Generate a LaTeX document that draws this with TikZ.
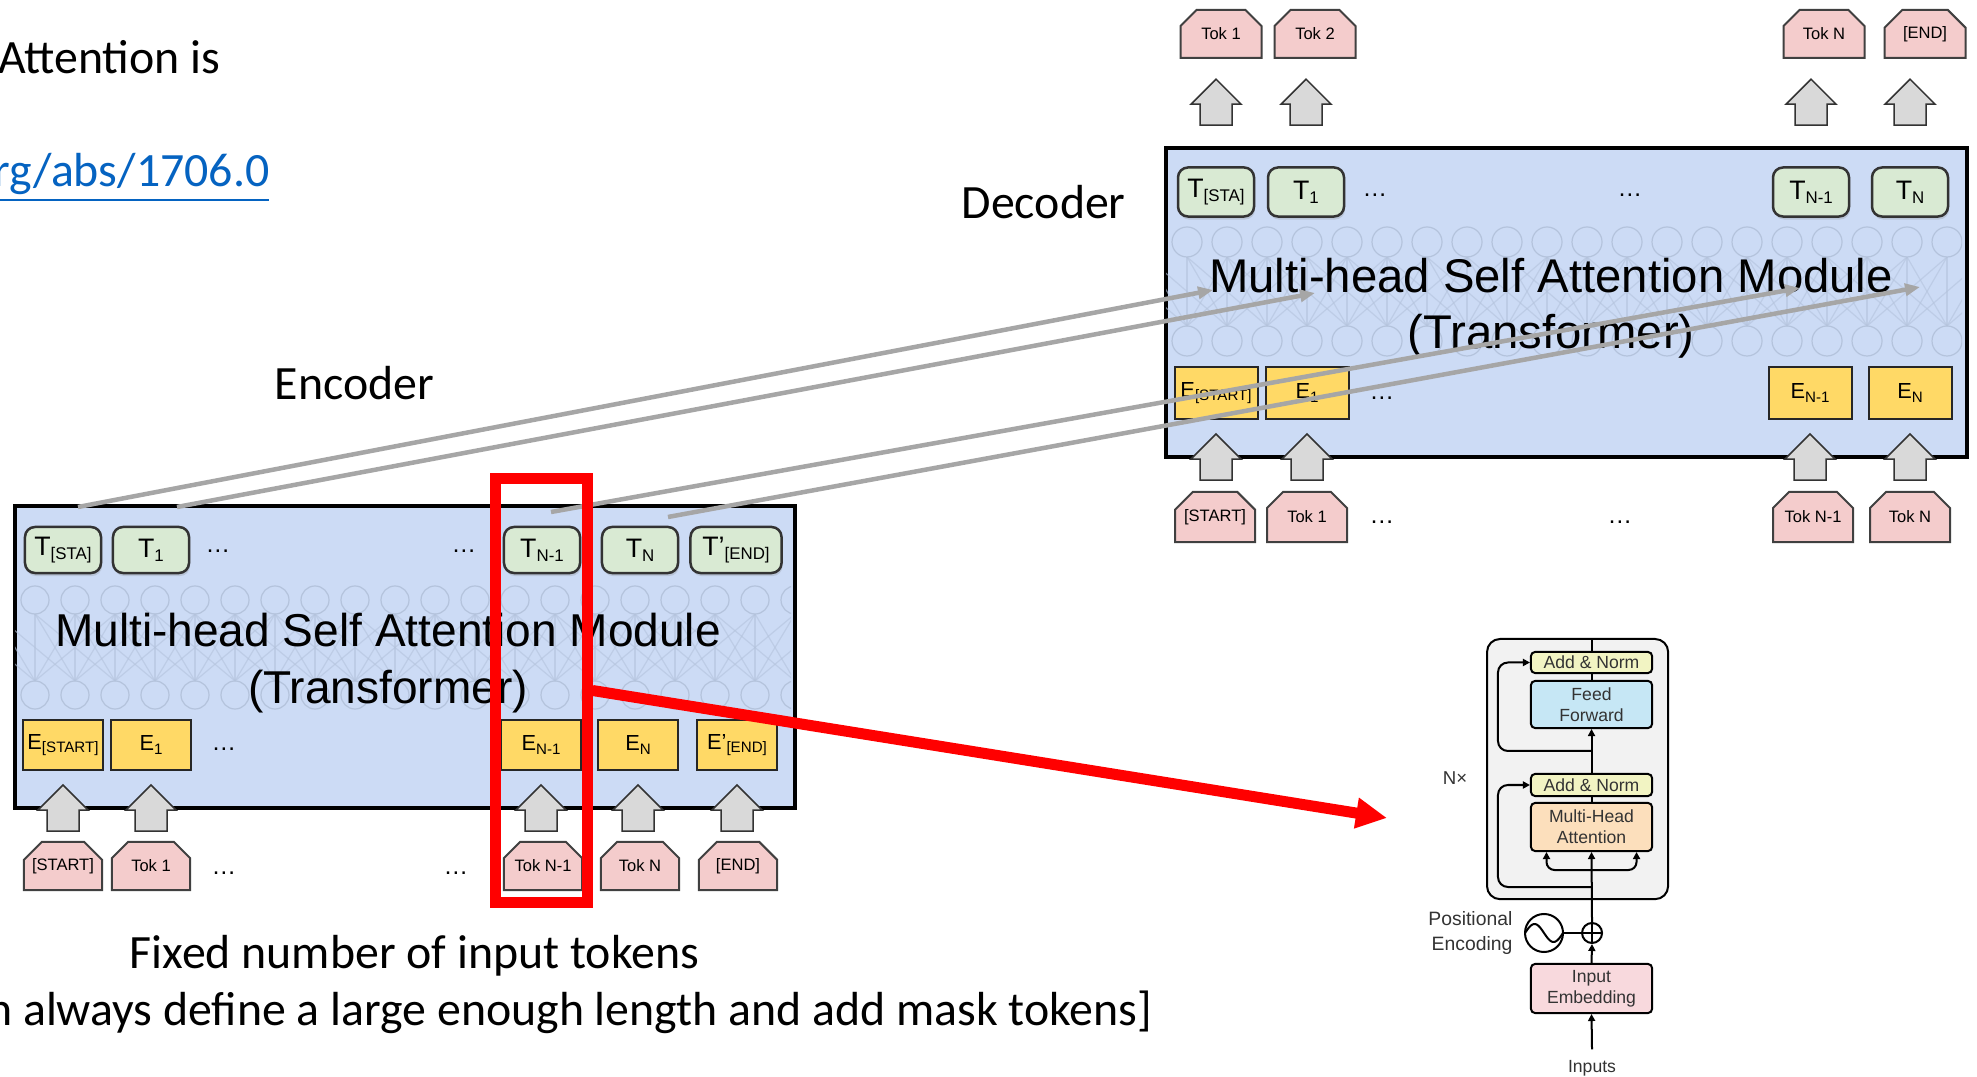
\documentclass[tikz,border=0pt]{standalone}
\usepackage{fontspec}
\setmainfont{Carlito}
\newfontfamily\arialfont{Liberation Sans}
\usetikzlibrary{positioning,arrows.meta,shapes.misc,shadows}

\definecolor{modblue}{HTML}{CCDBF5}
\definecolor{netgray}{HTML}{B4C3DC}
\definecolor{tgreen}{HTML}{D9EAD3}
\definecolor{eyellow}{HTML}{FFD966}
\definecolor{tokpink}{HTML}{F4CCCC}
\definecolor{blockgray}{HTML}{D9D9D9}
\definecolor{feedgray}{HTML}{A6A6A6}
\definecolor{linkblue}{HTML}{0563C1}
\definecolor{nxgray}{HTML}{F2F2F2}
\definecolor{normyellow}{HTML}{F2F4C3}
\definecolor{ffblue}{HTML}{C6E7F5}
\definecolor{mhaorange}{HTML}{FCDFBC}
\definecolor{embpink}{HTML}{F8D9DD}

% label with a small lowered index
\newcommand{\sublbl}[2]{#1\raisebox{-0.3ex}{\fontsize{4.8}{5}\selectfont #2}}
\newcommand{\esub}[2]{#1\raisebox{-0.3ex}{\fontsize{4.3}{5}\selectfont #2}}

\tikzset{
  modbox/.style={draw=black, line width=0.04cm, fill=modblue, inner sep=0pt},
  netline/.style={draw=netgray, line width=0.012cm},
  tbox/.style={draw=black!80, line width=0.025cm, rounded corners=0.1cm, fill=tgreen,
    minimum width=0.76cm, minimum height=0.46cm, inner sep=0pt,
    font=\arialfont\fontsize{7.6}{8}\selectfont,
    drop shadow={shadow xshift=0.01cm, shadow yshift=-0.03cm, opacity=0.25}},
  ebox/.style={draw=black!85, line width=0.02cm, fill=eyellow, minimum width=0.8cm,
    minimum height=0.5cm, inner sep=0pt, font=\arialfont\fontsize{6.2}{7}\selectfont},
  tokbox/.style={chamfered rectangle, chamfered rectangle corners={north west,north east},
    chamfered rectangle sep=0.1cm, draw=black!75, line width=0.02cm, fill=tokpink,
    minimum width=0.78cm, minimum height=0.48cm, inner sep=0pt,
    font=\arialfont\fontsize{4.7}{5}\selectfont},
  dots/.style={font=\arialfont\fontsize{7}{8}\selectfont, inner sep=0pt},
  title/.style={align=center, font=\arialfont\fontsize{13.1}{16}\selectfont},
  note/.style={font=\fontsize{13.6}{16}\selectfont, inner sep=0pt},
  feed/.style={draw=feedgray, line width=0.045cm, -{Triangle[length=0.15cm,width=0.12cm]}},
  blk/.style={draw=black, line width=0.02cm, rounded corners=0.04cm, minimum width=1.21cm,
    inner sep=0pt, align=center, text=black!80, font=\arialfont\fontsize{5}{6}\selectfont},
  flow/.style={line width=0.02cm, -{Triangle[length=0.07cm,width=0.07cm]}},
  uparr/.pic={\filldraw[fill=blockgray, draw=black!80, line width=0.015cm]
    (0,0) -- (25,25) -- (16,25) -- (16,46) -- (-16,46) -- (-16,25) -- (-25,25) -- cycle;},
}

\begin{document}
\begin{tikzpicture}[x=0.01cm, y=-0.01cm]
\useasboundingbox (0,0) rectangle (1977,1077);
\fill[white] (0,0) rectangle (1977,1077);

% texts
\node[note, anchor=base east] (paper) at (221,74) {Attention is};
\node[note, anchor=base east, text=linkblue] (url) at (270,187) {\underline{rg/abs/1706.0}};
\node[note, anchor=base west] (declbl) at (961,219) {Decoder};
\node[note, anchor=base west] (enclbl) at (274,400) {Encoder};
\node[note, anchor=base west] (fixlbl) at (129,968) {Fixed number of input tokens};
\node[note, anchor=base east] (masklbl) at (1153,1025) {n always define a large enough length and add mask tokens]};

% Encoder
\node[modbox, minimum width=7.8cm, minimum height=3.02cm, anchor=north west] (enc) at (13,504) {};
\begin{scope}
\clip (15,506) rectangle (791,804);
\foreach \i in {0,...,19} {
  \draw[netline] ({35+40*\i},600) circle (0.14cm) ({35+40*\i},695) circle (0.14cm);
  \foreach \d in {-2,...,2}
    \draw[netline, opacity=.6] ({35+40*\i},681) -- ({35+40*(\i+\d)},614);
}
\end{scope}
\node[title] (etitle) at (388,663) {Multi-head Self Attention Module\\(Transformer)};

\foreach \n/\x/\lab in {0/63/{\sublbl{T}{[STA]}}, 1/151/{\sublbl{T}{1}}, 2/542/{\sublbl{T}{N-1}}, 3/640/{\sublbl{T}{N}}}
  \node[tbox] (eT\n) at (\x,550) {\lab};
\node[tbox, minimum width=0.91cm] (eT4) at (736,550) {\sublbl{T’}{[END]}};
\foreach \n/\x/\lab in {0/63/{\esub{E}{[START]}}, 1/151/{\esub{E}{1}}, 2/541/{\esub{E}{N-1}}, 3/638/{\esub{E}{N}}, 4/737/{\esub{E’}{[END]}}}
  \node[ebox] (eE\n) at (\x,745) {\lab};
\foreach \n/\x/\lab in {0/63/{[START]}, 1/151/{Tok 1}, 2/543/{Tok N-1}, 3/640/{Tok N}, 4/738/{[END]}}
  \node[tokbox] (eK\n) at (\x,866) {\lab};
\foreach \n in {0,...,4}
  \pic at ([yshift=-0.14cm]eE\n.south) {uparr};
\node[dots] (edT1) at (218,551) {\dots};
\node[dots] (edT2) at (464,551) {\dots};
\node[dots] (edE) at (224,749) {\dots};
\node[dots] (edK1) at (224,873) {\dots};
\node[dots] (edK2) at (456,873) {\dots};

% Decoder
\node[modbox, minimum width=8cm, minimum height=3.09cm, anchor=north west] (dec) at (1164,146) {};
\begin{scope}
\clip (1166,148) rectangle (1962,453);
\foreach \i in {0,...,19} {
  \draw[netline] ({1187+40*\i},242) circle (0.15cm) ({1187+40*\i},341) circle (0.15cm);
  \foreach \d in {-2,...,2}
    \draw[netline, opacity=.6] ({1187+40*\i},326) -- ({1187+40*(\i+\d)},257);
}
\end{scope}
\node[title, font=\arialfont\fontsize{13.45}{16}\selectfont] (dtitle) at (1551,308) {Multi-head Self Attention Module\\(Transformer)};

\foreach \n/\x/\lab in {0/1216/{\sublbl{T}{[STA]}}, 1/1306/{\sublbl{T}{1}}, 2/1811/{\sublbl{T}{N-1}}, 3/1910/{\sublbl{T}{N}}}
  \node[tbox, minimum height=0.49cm] (dT\n) at (\x,192) {\lab};
\foreach \n/\x/\lab in {0/1216/{\esub{E}{[START]}}, 1/1307/{\esub{E}{1}}, 2/1810/{\esub{E}{N-1}}, 3/1910/{\esub{E}{N}}}
  \node[ebox, minimum width=0.83cm, minimum height=0.52cm] (dE\n) at (\x,393) {\lab};
\foreach \n/\x/\lab in {0/1215/{[START]}, 1/1307/{Tok 1}, 2/1813/{Tok N-1}, 3/1910/{Tok N}}
  \node[tokbox, minimum width=0.8cm, minimum height=0.5cm] (dK\n) at (\x,517) {\lab};
\foreach \n/\x/\lab in {0/1221/{Tok 1}, 1/1315/{Tok 2}, 2/1824/{Tok N}, 3/1925/{[END]}}
  \node[tokbox, minimum width=0.81cm] (oK\n) at (\x,34) {\lab};
\foreach \n in {0,...,3} {
  \pic at ([yshift=-0.14cm]dE\n.south) {uparr};
  \pic at ([yshift=0.87cm]dT\n.north) {uparr};
}
\node[dots] (ddT1) at (1375,195) {\dots};
\node[dots] (ddT2) at (1630,195) {\dots};
\node[dots] (ddE) at (1382,398) {\dots};
\node[dots] (ddK1) at (1382,522) {\dots};
\node[dots] (ddK2) at (1620,522) {\dots};

% encoder outputs fed to the decoder
\coordinate (f1a) at (78,507);   \coordinate (f1b) at (1213,290);
\coordinate (f2a) at (177,507);  \coordinate (f2b) at (1315,293);
\coordinate (f3a) at (551,512);  \coordinate (f3b) at (1800,288);
\coordinate (f4a) at (668,517);  \coordinate (f4b) at (1920,287);
\draw[feed] (f1a) -- (f1b);
\draw[feed] (f2a) -- (f2b);
\draw[feed] (f3a) -- (f3b);
\draw[feed] (f4a) -- (f4b);

% highlighted column
\node[draw=red, line width=0.11cm, minimum width=0.91cm, minimum height=4.23cm, inner sep=0pt] (hl) at (541.5,690.5) {};
\coordinate (zoomtip) at (1387,818);
\draw[red, line width=0.11cm, -{Triangle[length=0.31cm,width=0.29cm]}] (hl.east) -- (zoomtip);

% Transformer layer
\node[draw=black, line width=0.02cm, rounded corners=0.13cm, fill=nxgray, minimum width=1.81cm, minimum height=2.6cm, anchor=north west, inner sep=0pt] (layer) at (1486,638) {};
\node[blk, fill=normyellow, minimum height=0.21cm] (an2) at (1591.5,662.5) {Add \& Norm};
\node[blk, fill=ffblue, minimum height=0.47cm] (ff) at (1591.5,704.5) {Feed\\Forward};
\node[blk, fill=normyellow, minimum height=0.22cm] (an1) at (1591.5,785) {Add \& Norm};
\node[blk, fill=mhaorange, minimum height=0.48cm] (mha) at (1591.5,827) {Multi-Head\\Attention};
\node[blk, fill=embpink, minimum height=0.49cm] (emb) at (1591.5,988.5) {Input\\Embedding};
\node[inner sep=0.1cm, text=black!80, font=\arialfont\fontsize{5}{6}\selectfont] (inp) at (1592,1068) {Inputs};
\node[draw, circle, line width=0.02cm, minimum size=0.2cm, inner sep=0pt] (plus) at (1592,933) {};
\draw[line width=0.02cm] (plus.north) -- (plus.south) (plus.west) -- (plus.east);
\node[draw, circle, line width=0.02cm, minimum size=0.38cm, inner sep=0pt] (pe) at (1544,933) {};
\draw[line width=0.02cm] plot[domain=0:360, samples=40] ({1525+38*\x/360},{933-9*sin(\x)});
\node[align=right, anchor=east, inner sep=0pt, text=black!80, font=\arialfont\fontsize{5.5}{7}\selectfont] (petext) at (1513,933) {Positional\\Encoding};
\node[text=black!80, font=\arialfont\fontsize{5.3}{6}\selectfont] (nx) at (1455,778) {N×};

\coordinate (split) at (1592,870);
\coordinate (res1) at (1592,887);
\coordinate (res2) at (1592,751);
\draw[flow] (inp.north) -- (emb.south);
\draw[flow] (emb.north) -- (plus.south);
\draw[line width=0.02cm] (pe.east) -- (plus.west);
\draw[flow] (plus.north) -- (mha.south);
\draw[flow, rounded corners=0.08cm] (split) -| ([xshift=-0.45cm]mha.south);
\draw[flow, rounded corners=0.08cm] (split) -| ([xshift=0.45cm]mha.south);
\draw[flow, rounded corners=0.1cm] (res1) -| ([xshift=-0.32cm]an1.west) -- (an1.west);
\draw[line width=0.02cm] (mha.north) -- (an1.south);
\draw[flow] (an1.north) -- (ff.south);
\draw[flow, rounded corners=0.1cm] (res2) -| ([xshift=-0.32cm]an2.west) -- (an2.west);
\draw[line width=0.02cm] (ff.north) -- (an2.south);
\draw[line width=0.02cm] (an2.north) -- (an2.north |- layer.north);
\end{tikzpicture}
\end{document}
